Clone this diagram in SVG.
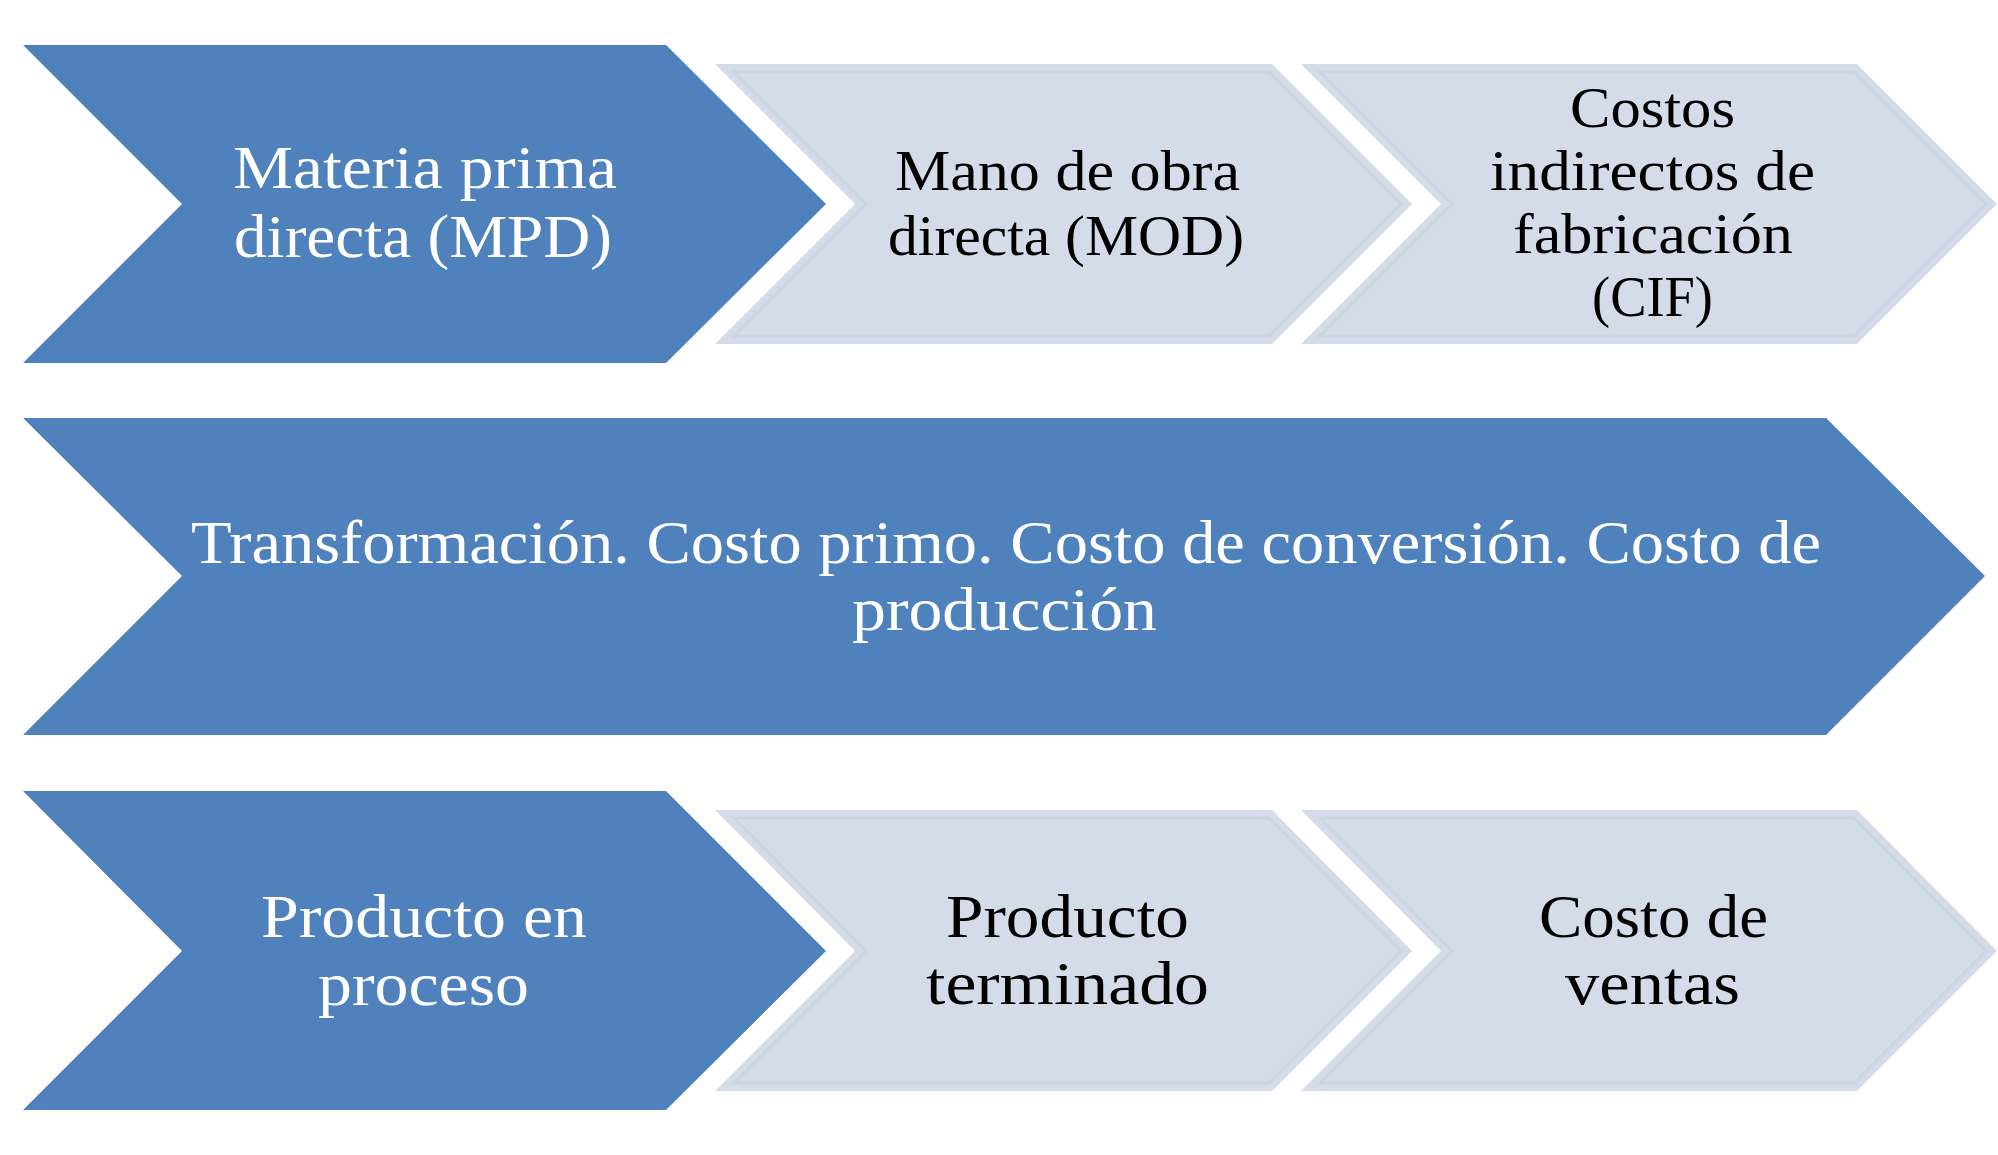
<svg xmlns="http://www.w3.org/2000/svg" width="1998" height="1155" viewBox="0 0 1998 1155">
<style>
.dark{fill:#4F81BD;}
.light{fill:#D5DCE9;}
.inner{fill:none;stroke:#CDD5E4;stroke-width:3;}
text{font-family:"Liberation Serif","Times New Roman",serif;}
.tw{fill:#FFFFFF;font-size:62px;}
.tb{fill:#000000;font-size:62px;}
.ts{fill:#000000;font-size:58px;}
</style>
<rect width="1998" height="1155" fill="#FFFFFF"/>
<g id="connectors"></g>
<g id="node-mpd">
<polygon class="dark" points="23,45 666,45 826,204 666,363 23,363 182,204"/>
<text class="tw" x="233" y="188" textLength="384" lengthAdjust="spacingAndGlyphs">Materia prima</text>
<text class="tw" x="234" y="257" textLength="378" lengthAdjust="spacingAndGlyphs">directa (MPD)</text>
</g>
<g id="node-mod">
<polygon class="light" points="715,64 1272,64 1412,204 1272,344 715,344 855,204"/>
<polygon class="inner" points="734,72 1269,72 1401,204 1269,336 734,336 866,204"/>
<text class="ts" x="895" y="190" textLength="345" lengthAdjust="spacingAndGlyphs">Mano de obra</text>
<text class="ts" x="888" y="255" textLength="356" lengthAdjust="spacingAndGlyphs">directa (MOD)</text>
</g>
<g id="node-cif">
<polygon class="light" points="1301,64 1857,64 1997,204 1857,344 1301,344 1441,204"/>
<polygon class="inner" points="1320,72 1854,72 1986,204 1854,336 1320,336 1452,204"/>
<text class="ts" x="1570" y="127" textLength="165" lengthAdjust="spacingAndGlyphs">Costos</text>
<text class="ts" x="1490" y="190" textLength="325" lengthAdjust="spacingAndGlyphs">indirectos de</text>
<text class="ts" x="1513" y="253" textLength="280" lengthAdjust="spacingAndGlyphs">fabricación</text>
<text class="ts" x="1592" y="316" textLength="121" lengthAdjust="spacingAndGlyphs">(CIF)</text>
</g>
<g id="node-transformacion">
<polygon class="dark" points="23,418 1826,418 1985,576 1826,735 23,735 182,576"/>
<text class="tw" x="191" y="563" textLength="1630" lengthAdjust="spacingAndGlyphs">Transformación. Costo primo. Costo de conversión. Costo de</text>
<text class="tw" x="852" y="630" textLength="305" lengthAdjust="spacingAndGlyphs">producción</text>
</g>
<g id="node-proceso">
<polygon class="dark" points="23,791 666,791 826,951 666,1110 23,1110 182,951"/>
<text class="tw" x="261" y="937" textLength="326" lengthAdjust="spacingAndGlyphs">Producto en</text>
<text class="tw" x="318" y="1005" textLength="211" lengthAdjust="spacingAndGlyphs">proceso</text>
</g>
<g id="node-terminado">
<polygon class="light" points="715,810 1272,810 1412,951 1272,1091 715,1091 855,951"/>
<polygon class="inner" points="734,818 1269,818 1401,951 1269,1083 734,1083 866,951"/>
<text class="tb" x="946" y="937" textLength="243" lengthAdjust="spacingAndGlyphs">Producto</text>
<text class="tb" x="926" y="1004" textLength="283" lengthAdjust="spacingAndGlyphs">terminado</text>
</g>
<g id="node-ventas">
<polygon class="light" points="1301,810 1857,810 1997,951 1857,1091 1301,1091 1441,951"/>
<polygon class="inner" points="1320,818 1854,818 1986,951 1854,1083 1320,1083 1452,951"/>
<text class="tb" x="1539" y="937" textLength="229" lengthAdjust="spacingAndGlyphs">Costo de</text>
<text class="tb" x="1565" y="1004" textLength="175" lengthAdjust="spacingAndGlyphs">ventas</text>
</g>
</svg>
